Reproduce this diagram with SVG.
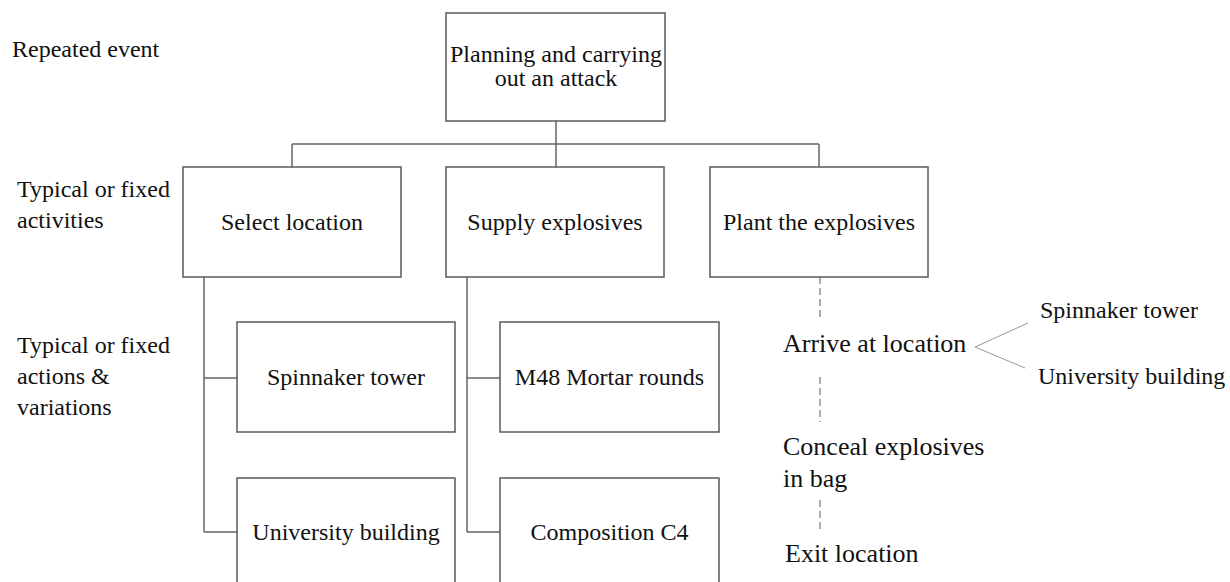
<svg xmlns="http://www.w3.org/2000/svg" width="1230" height="582" viewBox="0 0 1230 582">
<style>
.box{fill:#fff;stroke:#5a5a5a;stroke-width:1.5}
.t{font-family:'Liberation Serif','DejaVu Serif',serif;font-size:24px;fill:#111}
.c{text-anchor:middle}
.r{font-size:26px}
.con{fill:none;stroke:#666;stroke-width:1.5}
.dash{fill:none;stroke:#777;stroke-width:1.2;stroke-dasharray:7 4}
.fan{fill:none;stroke:#999;stroke-width:1}
</style>
<rect width="1230" height="582" fill="#fff"/>
<g id="connectors">
<path class="con" d="M556 121V144M292 144H819M292 144V167M556 144V167M819 144V167"/>
<path class="con" d="M204 277V532M204 378H237M204 532H237"/>
<path class="con" d="M467 277V532M467 378H500M467 532H500"/>
<path class="dash" d="M820 277V318M820 377V422M820 500V532"/>
<path class="fan" d="M1028 323L975 347L1025 368"/>
</g>
<g id="labels" font-family="Liberation Serif, serif">
<text class="t" x="12" y="57" font-family="Liberation Serif, serif">Repeated event</text>
<text class="t" x="17" y="197">Typical or fixed</text>
<text class="t" x="17" y="228">activities</text>
<text class="t" x="17" y="353">Typical or fixed</text>
<text class="t" x="17" y="384">actions &amp;</text>
<text class="t" x="17" y="415">variations</text>
</g>
<g id="n-root">
<rect class="box" x="446" y="13" width="219" height="108"/>
<text class="t c" x="556" y="62">Planning and carrying</text>
<text class="t c" x="556" y="86">out an attack</text>
</g>
<g id="n-select">
<rect class="box" x="183" y="167" width="218" height="110"/>
<text class="t c" x="292" y="230">Select location</text>
</g>
<g id="n-supply">
<rect class="box" x="446" y="167" width="218" height="110"/>
<text class="t c" x="555" y="230">Supply explosives</text>
</g>
<g id="n-plant">
<rect class="box" x="710" y="167" width="218" height="110"/>
<text class="t c" x="819" y="230">Plant the explosives</text>
</g>
<g id="n-spinnaker">
<rect class="box" x="237" y="322" width="218" height="110"/>
<text class="t c" x="346" y="385">Spinnaker tower</text>
</g>
<g id="n-university">
<rect class="box" x="237" y="478" width="218" height="120"/>
<text class="t c" x="346" y="540">University building</text>
</g>
<g id="n-m48">
<rect class="box" x="500" y="322" width="219" height="110"/>
<text class="t c" x="609.5" y="385">M48 Mortar rounds</text>
</g>
<g id="n-c4">
<rect class="box" x="500" y="478" width="219" height="120"/>
<text class="t c" x="609.5" y="540">Composition C4</text>
</g>
<g id="n-arrive">
<text class="t r" x="783" y="352">Arrive at location</text>
</g>
<g id="n-spin2">
<text class="t" x="1040" y="318">Spinnaker tower</text>
</g>
<g id="n-univ2">
<text class="t" x="1038" y="384">University building</text>
</g>
<g id="n-conceal">
<text class="t r" x="783" y="455">Conceal explosives</text>
<text class="t r" x="783" y="487">in bag</text>
</g>
<g id="n-exit">
<text class="t r" x="785" y="562">Exit location</text>
</g>
</svg>
